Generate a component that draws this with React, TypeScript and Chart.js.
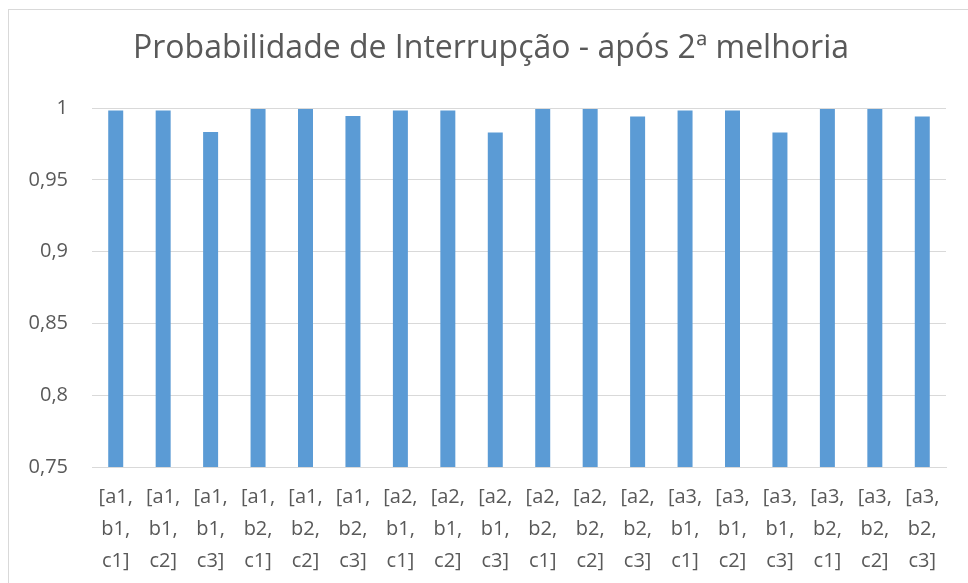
import React, { useEffect, useRef } from "react";
import { Chart, registerables } from "chart.js";

Chart.register(...registerables);

const TITLE = "Probabilidade de Interrupção - após 2ª melhoria";

const categories = [
  "[a1, b1, c1]", "[a1, b1, c2]", "[a1, b1, c3]",
  "[a1, b2, c1]", "[a1, b2, c2]", "[a1, b2, c3]",
  "[a2, b1, c1]", "[a2, b1, c2]", "[a2, b1, c3]",
  "[a2, b2, c1]", "[a2, b2, c2]", "[a2, b2, c3]",
  "[a3, b1, c1]", "[a3, b1, c2]", "[a3, b1, c3]",
  "[a3, b2, c1]", "[a3, b2, c2]", "[a3, b2, c3]",
];

const probabilities = [
  0.9982, 0.9982, 0.9833,
  0.9993, 0.9993, 0.9944,
  0.9982, 0.9982, 0.9830,
  0.9993, 0.9993, 0.9940,
  0.9982, 0.9982, 0.9830,
  0.9993, 0.9993, 0.9940,
];

const yMin = 0.75;
const yMax = 1;
const yStep = 0.05;

const FONT = "'Open Sans', 'Noto Sans', sans-serif";
const TEXT = "#595959";

const titleShift = {
  id: "titleShift",
  afterLayout(chart: any) {
    const tb = chart.titleBlock;
    if (tb) {
      tb.left += 8;
      tb.right += 8;
    }
  },
};

export default function App() {
  const ref = useRef<HTMLCanvasElement | null>(null);

  useEffect(() => {
    document.body.style.margin = "0";
    const canvas = ref.current;
    if (!canvas) return;
    const chart = new Chart(canvas, {
      type: "bar",
      data: {
        labels: categories.map((c) => c.split(" ")),
        datasets: [
          {
            data: probabilities,
            backgroundColor: "#5b9bd5",
            borderWidth: 0,
            barPercentage: 0.316,
            categoryPercentage: 1,
          },
        ],
      },
      plugins: [titleShift],
      options: {
        animation: false,
        responsive: false,
        maintainAspectRatio: false,
        layout: { padding: { left: 20, right: 22, top: 0, bottom: 0 } },
        plugins: {
          legend: { display: false },
          tooltip: { enabled: false },
          title: {
            display: true,
            text: TITLE,
            color: TEXT,
            font: { family: FONT, size: 32, weight: "normal", lineHeight: 1.2 },
            padding: { top: 30, bottom: 39.6 },
          },
        },
        scales: {
          x: {
            grid: { display: false, drawTicks: false },
            border: { display: true, color: "#d9d9d9", width: 1 },
            ticks: {
              color: TEXT,
              font: { family: FONT, size: 20, lineHeight: 1.6 },
              padding: 14,
              maxRotation: 0,
              minRotation: 0,
              autoSkip: false,
            },
            afterFit: (scale: any) => {
              scale.height = 116;
            },
          },
          y: {
            min: yMin,
            max: yMax,
            grid: { color: "#d9d9d9", lineWidth: 1, drawTicks: false },
            border: { display: false },
            ticks: {
              stepSize: yStep,
              color: TEXT,
              font: { family: FONT, size: 20 },
              padding: 24,
              callback: (v: any) =>
                String(Math.round(Number(v) * 100) / 100).replace(".", ","),
            },
            afterFit: (scale: any) => {
              scale.width = 72;
            },
          },
        },
      },
    });
    return () => chart.destroy();
  }, []);

  return (
    <div
      style={{
        position: "fixed",
        left: 0,
        top: 0,
        width: 968,
        height: 583,
        overflow: "hidden",
        background: "#fff",
      }}
    >
      <div
        style={{
          position: "absolute",
          left: 8,
          top: 9,
          width: 990,
          height: 600,
          border: "1px solid #d9d9d9",
        }}
      />
      <canvas
        ref={ref}
        width={968}
        height={583}
        style={{ position: "absolute", left: 0, top: 0 }}
      />
    </div>
  );
}
